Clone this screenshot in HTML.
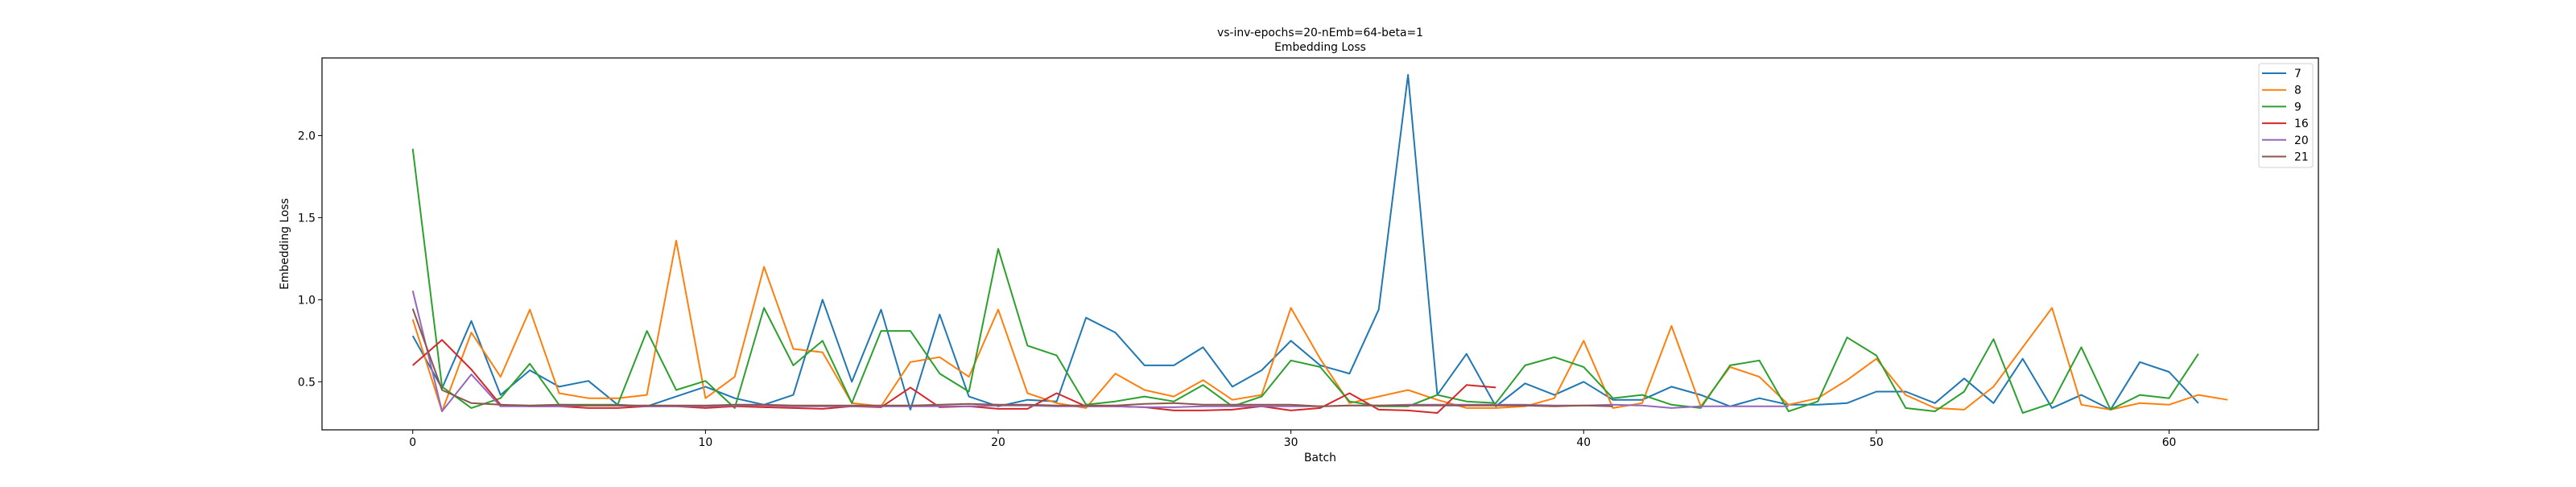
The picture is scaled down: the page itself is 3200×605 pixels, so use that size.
<!DOCTYPE html>
<html><head><meta charset="utf-8"><style>
html,body{margin:0;padding:0;background:#fff;}
svg text{font-family:"DejaVu Sans","Liberation Sans",sans-serif;font-size:13.9px;fill:#000;}
</style></head><body>
<svg id="chart" width="3200" height="600" viewBox="0 0 3200 600" xmlns="http://www.w3.org/2000/svg">
<rect x="0" y="0" width="3200" height="600" fill="#fff"/>
<text x="1640" y="45" text-anchor="middle">vs-inv-epochs=20-nEmb=64-beta=1</text>
<text x="1640" y="63" text-anchor="middle">Embedding Loss</text>
<g id="marks"></g>
<g id="axes"></g>
<rect x="400" y="72" width="2480" height="462" fill="none" stroke="#000" stroke-width="1.2"/>
<text x="1640" y="573" text-anchor="middle">Batch</text>
<text transform="translate(358,303) rotate(-90)" text-anchor="middle">Embedding Loss</text>
<g id="legend"></g>
</svg>
<script>
const seriesNames = ["7","8","9","16","20","21"];
const seriesColors = ["#1f77b4","#ff7f0e","#2ca02c","#d62728","#9467bd","#8c564b"];
const s7 = [0.78,0.46,0.87,0.42,0.57,0.47,0.505,0.36,0.35,0.41,0.47,0.40,0.36,0.42,1.00,0.50,0.94,0.33,0.91,0.41,0.35,0.39,0.38,0.89,0.80,0.60,0.60,0.71,0.47,0.57,0.75,0.60,0.55,0.94,2.37,0.42,0.67,0.35,0.49,0.42,0.50,0.39,0.39,0.47,0.42,0.35,0.40,0.36,0.36,0.37,0.44,0.44,0.37,0.52,0.37,0.64,0.34,0.42,0.33,0.62,0.56,0.37];
const s8 = [0.88,0.32,0.80,0.53,0.94,0.43,0.40,0.40,0.42,1.36,0.40,0.53,1.20,0.70,0.68,0.37,0.35,0.62,0.65,0.53,0.94,0.43,0.37,0.34,0.55,0.45,0.41,0.51,0.39,0.42,0.95,0.64,0.37,0.41,0.45,0.39,0.34,0.34,0.35,0.40,0.75,0.34,0.37,0.84,0.35,0.59,0.53,0.36,0.40,0.51,0.64,0.42,0.34,0.33,0.47,0.71,0.95,0.36,0.33,0.37,0.36,0.42,0.39];
const s9 = [1.92,0.47,0.34,0.40,0.61,0.36,0.36,0.36,0.81,0.45,0.505,0.34,0.95,0.60,0.75,0.37,0.81,0.81,0.55,0.44,1.31,0.72,0.66,0.36,0.38,0.41,0.38,0.48,0.35,0.41,0.63,0.59,0.38,0.35,0.35,0.42,0.38,0.37,0.60,0.65,0.59,0.40,0.42,0.36,0.34,0.60,0.63,0.32,0.38,0.77,0.66,0.34,0.32,0.44,0.76,0.31,0.37,0.71,0.33,0.42,0.40,0.67];
const s16 = [0.60,0.755,0.575,0.36,0.35,0.35,0.34,0.34,0.35,0.35,0.34,0.35,0.345,0.34,0.335,0.35,0.345,0.465,0.345,0.35,0.335,0.335,0.43,0.35,0.35,0.345,0.325,0.325,0.33,0.35,0.325,0.34,0.43,0.33,0.325,0.31,0.48,0.465];
const s20 = [1.055,0.32,0.545,0.35,0.35,0.35,0.355,0.355,0.35,0.35,0.35,0.355,0.355,0.35,0.35,0.35,0.35,0.35,0.35,0.35,0.355,0.355,0.35,0.35,0.35,0.345,0.345,0.35,0.35,0.35,0.35,0.35,0.355,0.355,0.36,0.36,0.36,0.36,0.36,0.355,0.355,0.36,0.355,0.34,0.35,0.35,0.35,0.35];
const s21 = [0.945,0.45,0.37,0.36,0.355,0.36,0.355,0.355,0.355,0.355,0.355,0.36,0.36,0.355,0.355,0.355,0.355,0.355,0.36,0.365,0.36,0.36,0.355,0.355,0.355,0.365,0.37,0.36,0.36,0.36,0.36,0.35,0.355,0.355,0.355,0.355,0.355,0.355,0.355,0.35,0.355,0.35];
const xTicks = [0,10,20,30,40,50,60];
const yTicks = [0.5,1.0,1.5,2.0];
const yTickLabels = ["0.5","1.0","1.5","2.0"];
const allSeries = [s7,s8,s9,s16,s20,s21];

const NS = "http://www.w3.org/2000/svg";
const L=400,R=2880,T=72,B=534;
let maxLen=0,ymin=Infinity,ymax=-Infinity;
allSeries.forEach(s=>{maxLen=Math.max(maxLen,s.length);s.forEach(v=>{ymin=Math.min(ymin,v);ymax=Math.max(ymax,v);});});
const xr=maxLen-1, xm=xr*0.05, yr=ymax-ymin, ym=yr*0.05;
const x0=-xm, x1=xr+xm, y0=ymin-ym, y1=ymax+ym;
function sx(v){return L+(v-x0)/(x1-x0)*(R-L);}
function sy(v){return B-(v-y0)/(y1-y0)*(B-T);}

const marks=document.getElementById('marks');
allSeries.forEach((s,k)=>{
  const p=document.createElementNS(NS,'polyline');
  p.setAttribute('points',s.map((v,i)=>sx(i).toFixed(1)+','+sy(v).toFixed(1)).join(' '));
  p.setAttribute('fill','none');
  p.setAttribute('stroke',seriesColors[k]);
  p.setAttribute('stroke-width','2');
  p.setAttribute('stroke-linejoin','round');
  
  
  marks.appendChild(p);
});

const axes=document.getElementById('axes');
xTicks.forEach(t=>{
  const X=sx(t);
  const ln=document.createElementNS(NS,'line');
  ln.setAttribute('x1',X);ln.setAttribute('x2',X);ln.setAttribute('y1',B);ln.setAttribute('y2',B+5);
  ln.setAttribute('stroke','#000');ln.setAttribute('stroke-width','1');
  
  
  axes.appendChild(ln);
  const tx=document.createElementNS(NS,'text');
  tx.setAttribute('x',X);tx.setAttribute('y',B+20);tx.setAttribute('text-anchor','middle');
  tx.textContent=String(t);
  
  
  axes.appendChild(tx);
});
yTicks.forEach((t,i)=>{
  const Y=sy(t);
  const ln=document.createElementNS(NS,'line');
  ln.setAttribute('x1',L-5);ln.setAttribute('x2',L);ln.setAttribute('y1',Y);ln.setAttribute('y2',Y);
  ln.setAttribute('stroke','#000');ln.setAttribute('stroke-width','1');
  
  
  axes.appendChild(ln);
  const tx=document.createElementNS(NS,'text');
  tx.setAttribute('x',L-8);tx.setAttribute('y',Y+5);tx.setAttribute('text-anchor','end');
  tx.textContent=yTickLabels[i];
  
  
  axes.appendChild(tx);
});

const lg=document.getElementById('legend');
const box=document.createElementNS(NS,'rect');
box.setAttribute('x',2806);box.setAttribute('y',79);box.setAttribute('width',67);box.setAttribute('height',129);
box.setAttribute('rx',3);box.setAttribute('fill','#fff');box.setAttribute('fill-opacity','0.8');
box.setAttribute('stroke','#d0d0d0');box.setAttribute('stroke-width','1');


lg.appendChild(box);
seriesNames.forEach((n,k)=>{
  const Y=91+k*20.7;
  const ln=document.createElementNS(NS,'line');
  ln.setAttribute('x1',2810);ln.setAttribute('x2',2840);ln.setAttribute('y1',Y);ln.setAttribute('y2',Y);
  ln.setAttribute('stroke',seriesColors[k]);ln.setAttribute('stroke-width','2');
  
  
  lg.appendChild(ln);
  const tx=document.createElementNS(NS,'text');
  tx.setAttribute('x',2850);tx.setAttribute('y',Y+5);
  tx.textContent=n;
  
  
  lg.appendChild(tx);
});
</script>
</body></html>
